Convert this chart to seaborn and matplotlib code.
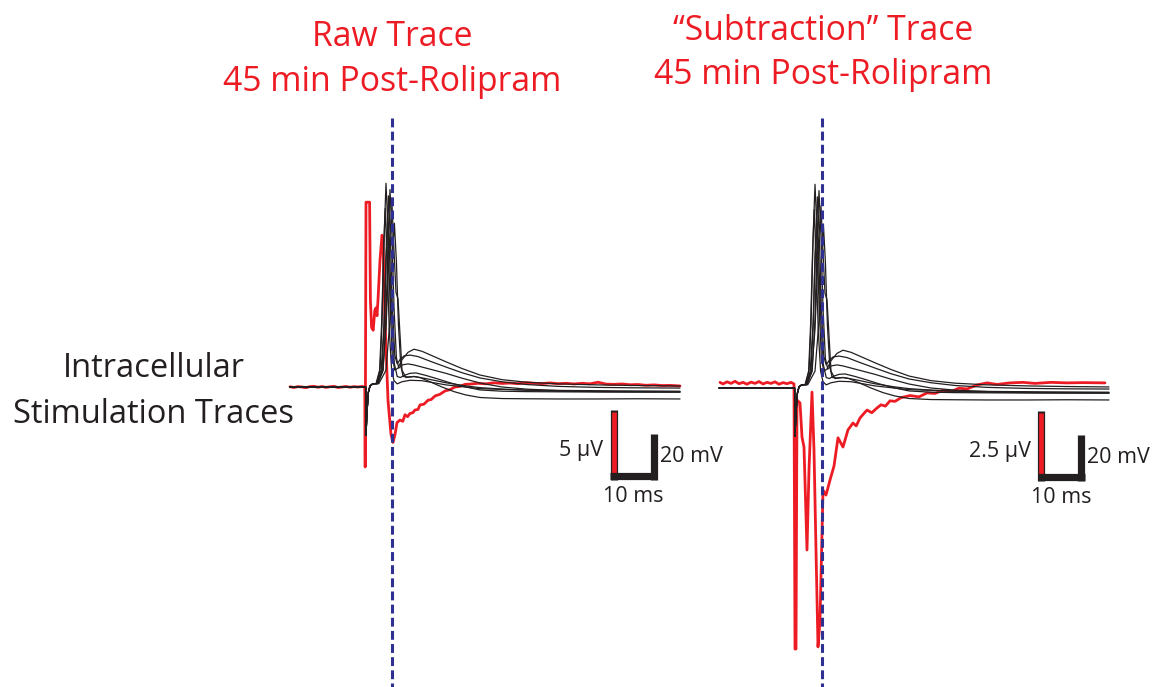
import matplotlib
matplotlib.use("Agg")
import matplotlib.pyplot as plt
import seaborn as sns

sns.set_theme(style="white")
plt.rcParams["font.family"] = ["Open Sans", "DejaVu Sans"]

# ---------------- data (time in ms from stimulus, black in mV, red in uV) -------------
# common start of every intracellular (black) trace: baseline + stimulus artifact
pre_t = [-19.0, -0.1, 0.0, 0.25, 0.6, 1.0, 1.6, 2.2]
pre_v = [0.0, 0.0, -23.0, -12.0, -2.5, 0.5, 1.4, 1.6]

# individual spikes + after-potentials
tr1_t = [2.6, 3.5, 4.0, 4.5, 5.0, 5.5, 6.0, 6.6, 7.2, 8.0, 9.0, 10.5, 12.0, 14.0, 17.0, 20.0, 24.0, 28.5, 34.0, 40.0, 48.0, 58.0, 68.0, 78.5]
tr1_v = [1.6, 8, 30, 70, 97, 75, 40, 14, 8, 9, 13, 16.5, 18, 17, 14.5, 12, 8.8, 5.7, 3.5, 2.3, 1.5, 1.0, 0.7, 0.5]
tr2_t = [2.8, 4.0, 4.6, 5.1, 5.6, 6.1, 6.6, 7.2, 7.8, 8.5, 9.5, 11.0, 13.0, 16.0, 20.0, 24.0, 28.5, 34.0, 40.0, 48.0, 58.0, 68.0, 78.5]
tr2_v = [1.6, 8, 32, 68, 91, 70, 38, 15, 11, 13, 14.8, 15.2, 14.5, 12.3, 9.5, 6.8, 4.3, 2.5, 1.2, 0.3, -0.2, -0.4, -0.5]
tr3_t = [3.0, 4.3, 5.0, 5.5, 6.0, 6.5, 7.0, 7.6, 8.2, 9.0, 10.5, 12.0, 14.0, 17.0, 20.0, 24.0, 28.5, 34.0, 40.0, 48.0, 58.0, 68.0, 78.5]
tr3_v = [1.6, 8, 33, 70, 94, 72, 38, 14, 9, 10.5, 11, 10.5, 9.5, 8, 6.5, 4.2, 1.9, 0, -1.0, -1.7, -2.1, -2.3, -2.4]
tr4_t = [2.7, 3.8, 4.5, 5.0, 5.5, 6.0, 6.5, 7.1, 7.8, 8.6, 9.5, 11.0, 12.5, 15.0, 18.0, 21.0, 25.0, 28.5, 34.0, 40.0, 48.0, 58.0, 78.5]
tr4_v = [1.6, 8, 30, 62, 77, 58, 30, 11, 5, 4.5, 5.5, 6.5, 6.7, 5.5, 3.8, 2.0, 0, -1.4, -2.0, -2.2, -2.3, -2.4, -2.4]
tr5_t = [3.2, 5.0, 6.0, 6.6, 7.1, 7.6, 8.1, 8.7, 9.3, 10.5, 12.0, 13.5, 16.0, 19.0, 22.0, 25.0, 28.5, 34.0, 40.0, 48.0, 58.0, 68.0, 78.5]
tr5_v = [1.6, 8, 32, 62, 78, 60, 30, 10, 5, 4.8, 5.0, 4.5, 2.5, 0, -2.2, -3.8, -5.0, -5.5, -5.6, -5.7, -5.7, -5.6, -5.7]
tr6_t = [2.9, 4.2, 5.0, 5.9, 6.5, 7.0, 7.5, 8.0, 8.5, 9.0, 10.0, 12.0, 15.0, 20.0, 25.0, 28.5, 34.0, 45.0, 60.0, 78.5]
tr6_v = [1.6, 8, 28, 70, 86.7, 65, 45, 42, 25, 8, 4.5, 5.0, 4.0, 2.0, 0.5, -0.3, -1.0, -1.9, -2.2, -2.3]
tr7_t = [2.5, 3.4, 3.9, 4.4, 4.8, 5.3, 5.8, 6.4, 7.0, 7.8, 9.0, 11.0, 14.0, 20.0, 28.5, 40.0, 60.0, 78.5]
tr7_v = [1.6, 8, 30, 65, 85, 60, 28, 8, 3, 1.5, 2.5, 3.2, 3.0, 1.0, -0.8, -1.5, -1.8, -2.0]

# raw extracellular trace (red, left panel, uV)
raw_t = [-19, -18, -17, -16, -15, -14, -13, -12, -11, -10, -9, -8, -7, -6, -5, -4, -3, -2, -1, -0.3,
         -0.2, 0.0, 0.9, 1.1, 1.4, 1.8, 2.2, 2.5, 2.75, 3.0, 3.5, 4.0, 4.25, 4.75, 5.5, 6.25, 6.75,
         7.25, 7.75, 8.5, 9.2, 9.75, 10.4, 11.0, 11.7, 12.25, 13.0, 13.5, 14.5, 15.5, 16.3, 17.25,
         18.5, 19.75, 21.0, 22.25, 23.5, 24.75, 26, 28, 30, 32, 34, 36, 38, 40, 42, 44, 46, 48, 50,
         52, 54, 56, 58, 60, 62, 64, 66, 68, 70, 72, 74, 76, 78.5]
raw_v = [0.02, -0.04, 0.03, 0.0, -0.05, 0.03, 0.05, -0.02, 0.04, -0.03, 0.02, 0.05, -0.04, 0.0, 0.04, -0.02, 0.03, 0.0, 0.04, 0.0,
         -6.06, 14.0, 14.0, 6.6, 4.5, 4.3, 5.8, 6.0, 5.4, 6.6, 9.6, 11.5, 11.2, 5.0, -1.0, -3.6, -4.2,
         -3.6, -2.7, -2.5, -2.6, -2.1, -2.25, -2.0, -1.95, -1.74, -1.7, -1.36, -1.3, -1.0, -0.95, -0.68,
         -0.55, -0.3, -0.2, 0.0, 0.05, 0.2, 0.22, 0.28, 0.24, 0.32, 0.27, 0.3, 0.25, 0.33, 0.28, 0.26, 0.31, 0.25, 0.28,
         0.23, 0.28, 0.24, 0.36, 0.22, 0.2, 0.23, 0.17, 0.19, 0.13, 0.16, 0.11, 0.12, 0.08]

# "subtraction" trace (red, right panel, uV)
sub_t = [-18.75, -18, -17, -16, -15, -14, -13, -12, -11, -10, -9, -8, -7, -6, -5, -4, -3, -2, -1, -0.25,
         0.0, 0.25, 0.5, 1.25, 1.75, 2.25, 3.0, 3.5, 4.25, 4.75, 5.25, 5.75, 6.25, 7.0, 7.75, 8.75,
         9.75, 10.75, 12.0, 13.25, 14.5, 15.3, 16.25, 17.1, 18.0, 19.2, 20.5, 21.5, 22.6, 23.75,
         25.0, 26.5, 28.75, 31.0, 33.0, 35.0, 37.0, 39.0, 41.0, 43.0, 45.5, 48.0, 50.5, 53.75,
         57.0, 60.0, 64.0, 68.0, 72.0, 77.5]
sub_v = [0.1, 0.04, 0.12, 0.06, 0.14, 0.05, 0.1, 0.03, 0.11, 0.06, 0.13, 0.04, 0.1, 0.06, 0.12, 0.03, 0.09, 0.05, 0.1, 0.04,
         -10.0, -10.0, -0.57, -0.68, -1.97, -2.35, -6.25, -3.2, -0.27, -2.46, -6.25, -9.92, -8.9, -3.98, -4.17, -3.6,
         -3.07, -2.0, -2.35, -1.7, -1.44, -1.55, -1.25, -1.1, -0.95, -1.05, -0.87, -0.75, -0.8, -0.6,
         -0.62, -0.48, -0.4, -0.45, -0.3, -0.32, -0.2, -0.25, -0.12, -0.15, 0.0, 0.08, 0.02, 0.08,
         0.1, 0.06, 0.1, 0.08, 0.09, 0.08]

title_left = ["Raw Trace", "45 min Post-Rolipram"]
title_right = ["\u201cSubtraction\u201d Trace", "45 min Post-Rolipram"]
side_label = ["Intracellular", "Stimulation Traces"]
scale_ms = 10
scale_mv = 20
scale_uv_left = 5
scale_uv_right = 2.5

# ---------------- styling / layout ----------------
W, H = 1156, 687
RED = "#ED1C24"
INK = "#231F20"
NAVY = "#2E3192"
fig = plt.figure(figsize=(W / 100, H / 100), dpi=100)

black_traces = [(tr1_t, tr1_v), (tr2_t, tr2_v), (tr3_t, tr3_v), (tr4_t, tr4_v),
                (tr5_t, tr5_v), (tr6_t, tr6_v), (tr7_t, tr7_v)]


def panel(stim_px, base_black, base_red, px_ms, px_mv, px_uv, red_t, red_v,
          dash_t, bar_t, bar_mv, bar_uv, uv_len, uv_label, cx, title, ty):
    ax_uv = fig.add_axes([0, 0, 1, 1])
    ax_uv.set_xlim(-stim_px / px_ms, (W - stim_px) / px_ms)
    ax_uv.set_ylim(-(H - base_red) / px_uv, base_red / px_uv)
    ax_mv = ax_uv.twinx()
    ax_mv.set_ylim(-(H - base_black) / px_mv, base_black / px_mv)
    for a in (ax_uv, ax_mv):
        a.axis("off")
        a.patch.set_alpha(0)

    sns.lineplot(x=red_t, y=red_v, ax=ax_uv, color=RED, lw=2.0, sort=False, estimator=None)
    for tt, vv in black_traces:
        sns.lineplot(x=pre_t + tt, y=pre_v + vv, ax=ax_mv, color=INK, lw=0.9,
                     sort=False, estimator=None)

    # dashed marker
    ax_mv.plot([dash_t, dash_t], [(base_black - 118) / px_mv, -(H - base_black) / px_mv - 5],
               color=NAVY, lw=2.2, dashes=(2.9, 1.4), zorder=10)

    # scale bar (L shape)
    ax_uv.plot([bar_t, bar_t], [bar_uv - 3.5 / px_uv, bar_uv + uv_len], color=INK,
               lw=5.2, solid_capstyle="butt", zorder=5)
    ax_mv.plot([bar_t - 3.5 / px_ms, bar_t + scale_ms + 3.5 / px_ms], [bar_mv, bar_mv],
               color=INK, lw=5.2, solid_capstyle="butt", zorder=5)
    ax_mv.plot([bar_t + scale_ms, bar_t + scale_ms], [bar_mv - 3.5 / px_mv, bar_mv + scale_mv],
               color=INK, lw=5.2, solid_capstyle="butt", zorder=5)
    ax_uv.plot([bar_t, bar_t], [bar_uv + 3.5 / px_uv, bar_uv + uv_len - 1.2 / px_uv], color=RED,
               lw=3.4, solid_capstyle="butt", zorder=6)

    bx = stim_px + bar_t * px_ms
    by = base_black - bar_mv * px_mv
    fig.text((bx - 10) / W, 1 - (by - 20) / H, uv_label, ha="right", va="baseline",
             fontsize=15.5, color=INK)
    fig.text((bx + scale_ms * px_ms + 6) / W, 1 - (by - 14) / H, f"{scale_mv} mV", ha="left",
             va="baseline", fontsize=15.5, color=INK)
    fig.text((bx + scale_ms * px_ms / 2) / W, 1 - (by + 26) / H, f"{scale_ms} ms", ha="center",
             va="baseline", fontsize=15.5, color=INK)

    for line, y in zip(title, ty):
        fig.text(cx / W, 1 - y / H, line, ha="center", va="baseline", fontsize=24.3, color=RED)


panel(366, 387, 387, 4.0, 2.1, 13.2, raw_t, raw_v, 6.5, 61.9, -42.6, -6.78,
      scale_uv_left, f"{scale_uv_left} \u00b5V", 392, title_left, (46, 91))
panel(795, 388, 385, 4.0, 2.1, 26.4, sub_t, sub_v, 6.75, 61.6, -42.6, -3.5,
      scale_uv_right, f"{scale_uv_right} \u00b5V", 823, title_right, (40, 84))

for line, y in zip(side_label, (377, 423)):
    fig.text(154 / W, 1 - y / H, line, ha="center", va="baseline", fontsize=23.5, color=INK)

fig.savefig("out.png", dpi=100)
